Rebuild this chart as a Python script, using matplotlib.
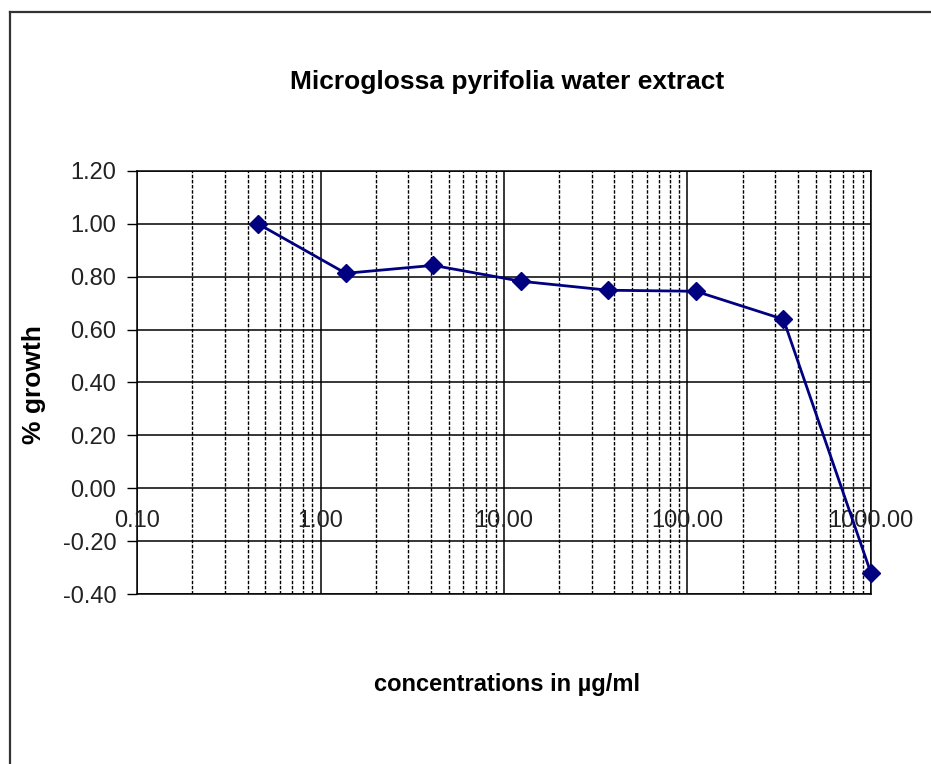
import matplotlib
matplotlib.use('Agg')
import matplotlib.pyplot as plt
from matplotlib.lines import Line2D
from matplotlib.ticker import LogLocator, NullFormatter, FixedLocator

NAVY = '#000080'

conc = [0.457, 1.372, 4.115, 12.35, 37.04, 111.1, 333.3, 1000.0]
growth = [1.00, 0.813, 0.843, 0.783, 0.749, 0.745, 0.639, -0.321]

y_ticks = [1.20, 1.00, 0.80, 0.60, 0.40, 0.20, 0.00, -0.20, -0.40]
x_ticks = [0.1, 1.0, 10.0, 100.0, 1000.0]
x_labels = ['0.10', '1.00', '10.00', '100.00', '1000.00']

title = 'Microglossa pyrifolia water extract'
x_title = 'concentrations in µg/ml'
y_title = '% growth'

plt.rcParams['font.family'] = ['Liberation Sans', 'DejaVu Sans']


def plotter() -> None:
    fig = plt.figure(figsize=(9.31, 7.64), dpi=100)
    ax = fig.add_axes([0.1472, 0.2225, 0.7883, 0.5537])

    ax.set_xscale('log')
    ax.set_xlim(0.1, 1000)
    ax.set_ylim(-0.4, 1.2)

    # grid: solid on decades and y steps, dashed on minor decades
    ax.xaxis.set_major_locator(FixedLocator(x_ticks))
    ax.xaxis.set_minor_locator(LogLocator(base=10, subs=range(2, 10)))
    ax.xaxis.set_minor_formatter(NullFormatter())
    ax.set_xticklabels([])
    ax.tick_params(axis='x', which='both', length=0)
    ax.grid(True, which='major', axis='x', color='black', lw=1.1)
    ax.grid(True, which='minor', axis='x', color='black', lw=1.0,
            linestyle=(0, (2.5, 1.2)))

    ax.set_yticks(y_ticks)
    ax.set_yticklabels([f'{v:.2f}' for v in y_ticks], fontsize=17, color='#222222')
    ax.tick_params(axis='y', length=7, width=1, pad=8)
    ax.grid(True, which='major', axis='y', color='black', lw=1.1)
    ax.set_axisbelow(True)

    for side in ['top', 'right', 'bottom', 'left']:
        ax.spines[side].set_color('black')
        ax.spines[side].set_linewidth(1.1)

    # x labels sit under the zero line, Excel style
    for xv, lab in zip(x_ticks, x_labels):
        ax.annotate(lab, (xv, 0.0), xytext=(0, -16), textcoords='offset points',
                    ha='center', va='top', fontsize=17, color='#222222')

    ax.plot(conc, growth, color=NAVY, lw=2.0, marker='D', ms=9.5,
            mfc=NAVY, mec=NAVY, clip_on=False, zorder=5)

    fig.text(0.5445, 0.893, title, ha='center', va='center',
             fontsize=19, fontweight='bold')
    fig.text(0.5445, 0.104, x_title, ha='center', va='center',
             fontsize=17, fontweight='bold')
    fig.text(0.036, 0.497, y_title, ha='center', va='center',
             fontsize=19, fontweight='bold', rotation=90)

    # chart area border (only left and top visible in the crop)
    fig.add_artist(Line2D([0.0107, 0.0107], [0.0, 0.9843], transform=fig.transFigure,
                          color='#333333', lw=1.6))
    fig.add_artist(Line2D([0.0107, 1.0], [0.9843, 0.9843], transform=fig.transFigure,
                          color='#333333', lw=1.6))

    fig.savefig('out.png', dpi=100, facecolor='white')


def main() -> None:
    plotter()


main()
